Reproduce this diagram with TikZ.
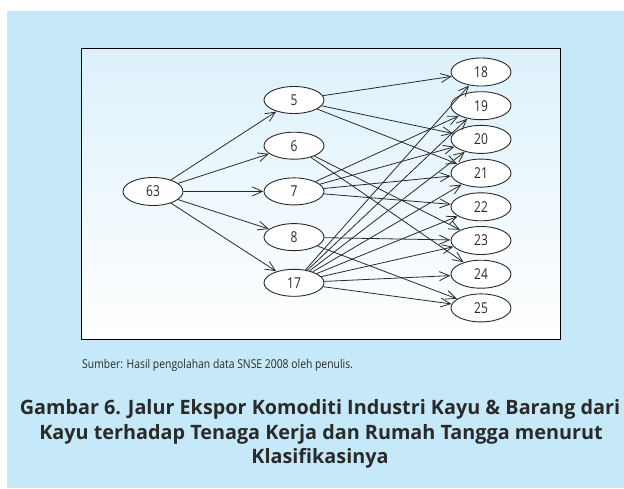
\documentclass[tikz,border=0pt]{standalone}
\usepackage{fontspec}
\setmainfont{Open Sans}
\newfontfamily\condfont{Open Sans}[FakeStretch=0.8]
\newfontfamily\srcfont{Open Sans}[FakeStretch=0.85]
\usetikzlibrary{shapes.geometric,arrows.meta}
\definecolor{outerblue}{HTML}{C6E9F9}
\definecolor{innertop}{HTML}{DCF1FB}
\definecolor{inkgray}{HTML}{2A2A2A}
\begin{document}
\begin{tikzpicture}[x=1pt,y=-1pt,
  nd/.style={ellipse,draw=inkgray,line width=0.9pt,fill=white,minimum width=60pt,minimum height=28pt,inner sep=0pt,font=\condfont\fontsize{15}{15}\selectfont,text=inkgray},
  arr/.style={draw=inkgray,line width=0.8pt,-{Straight Barb[length=10pt,width=9pt,line width=0.8pt]},shorten >=0.3pt},
  capline/.style={anchor=base,inner sep=0pt,font=\bfseries\fontsize{19.8}{24}\selectfont,text=inkgray}]
\useasboundingbox (0,0) rectangle (624,488);
\fill[outerblue] (7,11) rectangle (624,488);
\shade[top color=innertop,bottom color=white] (81,48) rectangle (560,339);
\draw[black,line width=0.9pt] (81,48) rectangle (560,339);
% nodes
\node[nd] (n63) at (153,191.5) {63};
\node[nd,minimum height=27pt] (n5) at (294,100) {5};
\node[nd,minimum height=27pt] (n6) at (294,145.7) {6};
\node[nd,minimum height=27pt] (n7) at (294,191.4) {7};
\node[nd,minimum height=27pt] (n8) at (294,237.1) {8};
\node[nd,minimum height=27pt] (n17) at (294,282.8) {17};
\node[nd] (n18) at (481,72) {18};
\node[nd] (n19) at (481,105.7) {19};
\node[nd] (n20) at (481,139.4) {20};
\node[nd] (n21) at (481,173.1) {21};
\node[nd] (n22) at (481,206.8) {22};
\node[nd] (n23) at (481,240.5) {23};
\node[nd] (n24) at (481,274.2) {24};
\node[nd] (n25) at (481,307.9) {25};
% edges from 63
\foreach \t in {5,6,7,8,17} {\draw[arr] (n63) -- (n\t);}
% edges from 5
\foreach \t in {18,20,21} {\draw[arr] (n5) -- (n\t);}
% edges from 6
\foreach \t in {23,24} {\draw[arr] (n6) -- (n\t);}
% edges from 7
\foreach \t in {19,20,21,22} {\draw[arr] (n7) -- (n\t);}
% edges from 8
\foreach \t in {23,25} {\draw[arr] (n8) -- (n\t);}
% edges from 17
\foreach \t in {18,19,20,21,22,23,24,25} {\draw[arr] (n17) -- (n\t);}
% source
\node[anchor=base west,inner sep=0pt,font=\srcfont\fontsize{12.2}{12.2}\selectfont,text=inkgray] (src) at (82,368) {Sumber: Hasil pengolahan data SNSE 2008 oleh penulis.};
% caption
\node[capline] (cap1) at (320,414) {Gambar 6. Jalur Ekspor Komoditi Industri Kayu \& Barang dari};
\node[capline] (cap2) at (321,439) {Kayu terhadap Tenaga Kerja dan Rumah Tangga menurut};
\node[capline] (cap3) at (320,463) {Klasifikasinya};
\end{tikzpicture}
\end{document}
